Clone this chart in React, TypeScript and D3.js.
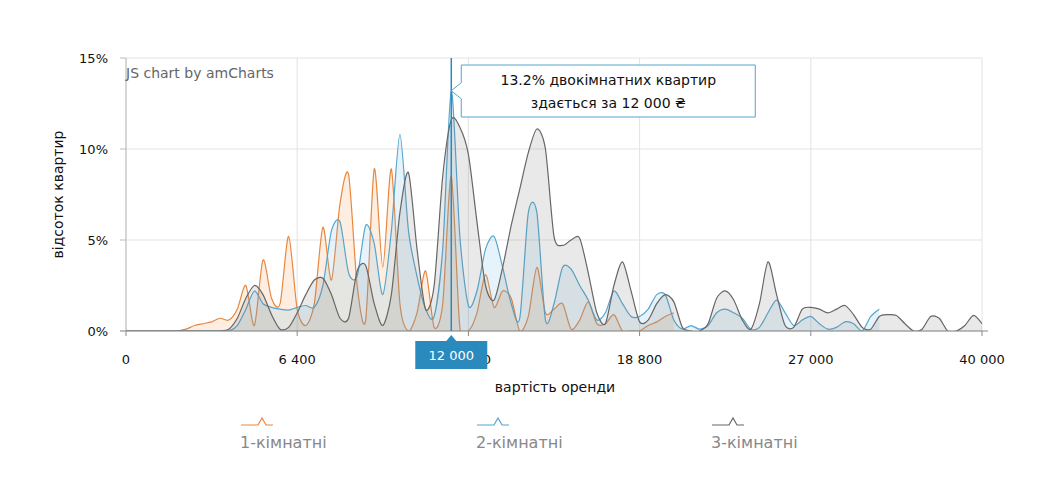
import React, { useRef, useEffect } from 'react';
import * as d3 from "d3";

const oneRoom: (number | null)[] = [
  0, 0, 0, 0, 0, 0, 0, 0.1, 0.3, 0.4, 0.5, 0.7, 0.6, 1.2, 2.5, 0.3, 3.9, 1.8, 1.5, 5.2,
  1.2, 0.3, 1.5, 5.7, 2.8, 7.0, 8.6, 2.5, 0.6, 8.9, 3.5, 8.9, 1.5, 0, 1.0, 3.3, 0.2, 1.5, 8.5, 0.2,
  0, 1.0, 3.1, 1.3, 2.2, 1.8, 0, 0.8, 3.5, 1.0, 1.2, 1.5, 0.1, 0.6, 1.6, 0.4, 0.4, 0.9, 0, 0,
  0, 0.3, 0.5, 0.8, 1.0,
];
const twoRoom: (number | null)[] = [
  0, 0, 0, 0, 0, 0, 0, 0, 0, 0, 0, 0, 0, 0.3, 1.2, 2.2, 1.5, 1.3, 1.2, 1.15,
  1.3, 1.4, 1.3, 2.5, 5.5, 6.0, 3.2, 3.0, 5.8, 4.8, 2.0, 5.5, 10.8, 5.5, 3.0, 1.2, 0.8, 4.5, 13.2, 5.2,
  1.4, 2.2, 4.5, 5.2, 3.5, 1.5, 0.7, 6.5, 6.5, 0.6, 1.5, 3.5, 3.4, 2.5, 1.7, 0.6, 1.0, 2.2, 1.5, 0.8,
  0.8, 1.2, 2.0, 2.0, 0.6, 0.1, 0.3, 0.1, 0.3, 1.0, 1.2, 1.0, 0.7, 0.1, 0.2, 1.0, 1.7, 1.0, 0.3, 0.6,
  0.8, 0.4, 0.1, 0.2, 0.5, 0.4, 0, 0.8, 1.2,
];
const threeRoom: (number | null)[] = [
  0, 0, 0, 0, 0, 0, 0, 0, 0, 0, 0, 0, 0.1, 0.7, 1.8, 2.5, 2.0, 0.9, 0.1, 0.2,
  1.0, 2.0, 2.8, 2.9, 2.0, 0.7, 0.7, 3.3, 3.6, 1.5, 0.3, 2.0, 6.5, 8.7, 4.5, 1.2, 2.5, 8.5, 11.6, 11.2,
  9.7, 6.0, 2.5, 1.7, 3.5, 5.8, 7.8, 9.8, 11.1, 10.0, 5.2, 4.7, 5.0, 5.1, 3.2, 1.0, 0.4, 2.5, 3.8, 2.2,
  0.5, 0.6, 1.5, 2.0, 1.6, 0.2, 0, 0, 0.4, 1.8, 2.2, 1.7, 0.6, 0.1, 1.5, 3.8, 2.0, 0.3, 0.2, 1.2,
  1.3, 1.2, 1.0, 1.2, 1.4, 0.9, 0.2, 0.1, 0.8, 0.9, 0.85, 0.4, 0, 0.1, 0.8, 0.7, 0, 0, 0.3, 0.86, 0.4,
];

const xTickIndex = [0, 20, 40, 60, 80, 100];
const xTickLabels = ["0", "6 400", "12 800", "18 800", "27 000", "40 000"];
const yTicks = [0, 5, 10, 15];
const cursorIndex = 38;
const cursorLabel = "12 000";
const balloonLines = ["13.2% двокімнатних квартир", "здається за 12 000 ₴"];

const seriesNames = ["1-кімнатні", "2-кімнатні", "3-кімнатні"];
const seriesData = [oneRoom, twoRoom, threeRoom];
const lineColors = ["#e8873f", "#55a6cf", "#666666"];
const fillColors = ["rgba(245,150,70,0.16)", "rgba(120,190,225,0.18)", "rgba(120,120,120,0.16)"];

const App: React.FC = () => {
  const svgRef = useRef<SVGSVGElement | null>(null);

  useEffect(() => {
    const width = 1045, height = 504;
    const margin = { top: 58, right: 63, bottom: 173, left: 126 };
    const innerWidth = width - margin.left - margin.right;
    const innerHeight = height - margin.top - margin.bottom;
    const font = "Verdana, 'DejaVu Sans', sans-serif";

    d3.select(svgRef.current).selectAll("*").remove();
    const svg = d3.select(svgRef.current).attr("width", width).attr("height", height);
    svg.append("defs").append("clipPath").attr("id", "plotClip")
      .append("rect").attr("x", 0).attr("y", -20).attr("width", innerWidth).attr("height", innerHeight + 20);
    const g = svg.append("g").attr("transform", `translate(${margin.left}, ${margin.top})`);

    const x = d3.scaleLinear().domain([0, 100]).range([0, innerWidth]);
    const y = d3.scaleLinear().domain([0, 15]).range([innerHeight, 0]);

    // сітка
    g.selectAll(".gy").data(yTicks).enter().append("line")
      .attr("x1", 0).attr("x2", innerWidth)
      .attr("y1", d => y(d)).attr("y2", d => y(d))
      .attr("stroke", "#e3e3e3");
    g.selectAll(".gx").data(xTickIndex).enter().append("line")
      .attr("x1", d => x(d)).attr("x2", d => x(d))
      .attr("y1", 0).attr("y2", innerHeight)
      .attr("stroke", "#e3e3e3");
    g.append("line").attr("x1", 0).attr("x2", 0).attr("y1", 0).attr("y2", innerHeight).attr("stroke", "#bbb");

    g.append("text").attr("x", 0).attr("y", 20)
      .attr("font-family", font).attr("font-size", 14).attr("fill", "#666")
      .text("JS chart by amCharts");

    // серії
    const plot = g.append("g").attr("clip-path", "url(#plotClip)");
    seriesData.forEach((data, k) => {
      const pts = data.map((v, i) => [i, v] as [number, number | null]).filter(p => p[1] !== null) as [number, number][];
      const curve = d3.curveCardinal.tension(0.2);
      const area = d3.area<[number, number]>()
        .x(d => x(d[0])).y0(innerHeight).y1(d => Math.min(innerHeight, y(d[1])))
        .curve(curve);
      const line = d3.line<[number, number]>()
        .x(d => x(d[0])).y(d => y(d[1]))
        .curve(curve);
      plot.append("path").attr("d", area(pts)).attr("fill", fillColors[k]);
      plot.append("path").attr("d", line(pts)).attr("fill", "none")
        .attr("stroke", lineColors[k]).attr("stroke-width", 1.2);
    });

    // осі
    g.append("line").attr("x1", -6).attr("x2", innerWidth + 6)
      .attr("y1", innerHeight).attr("y2", innerHeight).attr("stroke", "#888");
    g.selectAll(".xt").data(xTickIndex).enter().append("line")
      .attr("x1", d => x(d)).attr("x2", d => x(d))
      .attr("y1", innerHeight).attr("y2", innerHeight + 5).attr("stroke", "#888");
    g.selectAll(".xl").data(xTickIndex).enter().append("text")
      .attr("x", d => x(d)).attr("y", innerHeight + 33)
      .attr("text-anchor", "middle").attr("font-family", font).attr("font-size", 13).attr("fill", "#111")
      .text((d, i) => xTickLabels[i]);
    g.selectAll(".yl").data(yTicks).enter().append("text")
      .attr("x", -18).attr("y", d => y(d) + 5)
      .attr("text-anchor", "end").attr("font-family", font).attr("font-size", 13).attr("fill", "#111")
      .text(d => `${d}%`);
    g.selectAll(".yt").data(yTicks).enter().append("line")
      .attr("x1", -6).attr("x2", 0).attr("y1", d => y(d)).attr("y2", d => y(d)).attr("stroke", "#bbb");

    g.append("text").attr("x", innerWidth / 2 + 1).attr("y", innerHeight + 61)
      .attr("text-anchor", "middle").attr("font-family", font).attr("font-size", 14).attr("fill", "#111")
      .text("вартість оренди");
    g.append("text").attr("transform", `translate(-63, ${innerHeight / 2}) rotate(-90)`)
      .attr("text-anchor", "middle").attr("font-family", font).attr("font-size", 14).attr("fill", "#111")
      .text("відсоток квартир");

    // курсор
    const cx = x(cursorIndex);
    const cy = y(twoRoom[cursorIndex] as number);
    g.append("line").attr("x1", cx).attr("x2", cx).attr("y1", 0).attr("y2", innerHeight)
      .attr("stroke", "#2a8abe").attr("stroke-width", 1.5);
    const bx = cx + 10, by = 7, bw = 294, bh = 52;
    g.append("path")
      .attr("d", `M${bx},${by} H${bx + bw} V${by + bh} H${bx} V${cy + 8} L${cx},${cy} L${bx},${cy - 8} Z`)
      .attr("fill", "rgba(255,255,255,0.95)").attr("stroke", "#55a6cf");
    balloonLines.forEach((t, i) => {
      g.append("text").attr("x", bx + bw / 2).attr("y", by + 20 + i * 23)
        .attr("text-anchor", "middle").attr("font-family", font).attr("font-size", 14).attr("fill", "#111")
        .text(t);
    });
    const lw = 72, ly = innerHeight + 10;
    g.append("path")
      .attr("d", `M${cx - lw / 2},${ly} H${cx - 5} L${cx},${ly - 6} L${cx + 5},${ly} H${cx + lw / 2} V${ly + 28} H${cx - lw / 2} Z`)
      .attr("fill", "#2a8abe");
    g.append("text").attr("x", cx).attr("y", ly + 19).attr("text-anchor", "middle")
      .attr("font-family", font).attr("font-size", 13).attr("fill", "#fff").text(cursorLabel);

    // легенда
    const legendX = [241, 477, 712];
    seriesNames.forEach((name, k) => {
      const lx = legendX[k];
      svg.append("path")
        .attr("d", `M${lx},${425} H${lx + 17} L${lx + 21},${418} L${lx + 25},${425} H${lx + 32}`)
        .attr("fill", "none").attr("stroke", lineColors[k]).attr("stroke-width", 1.2);
      svg.append("text").attr("x", lx - 1).attr("y", 448)
        .attr("font-family", font).attr("font-size", 16).attr("fill", "#888").text(name);
    });
  }, []);

  return <svg ref={svgRef} style={{ position: "absolute", left: 0, top: 0 }}></svg>;
};

export default App;
